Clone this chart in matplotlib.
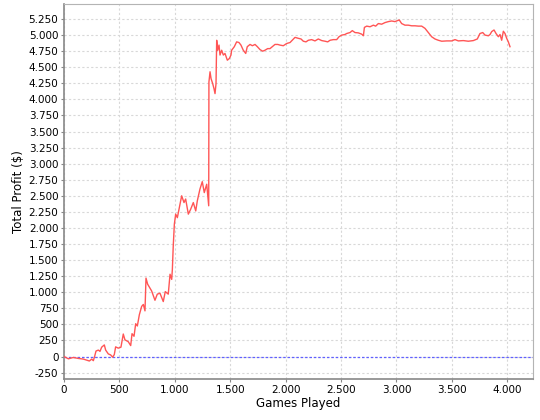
import matplotlib
matplotlib.use('Agg')
import matplotlib.pyplot as plt
from matplotlib.ticker import MultipleLocator, FuncFormatter

# Games played vs. total profit
games = [0, 40, 84, 130, 175, 229, 250, 265, 277, 289, 310, 325, 340, 364, 376,
         400, 421, 439, 454, 466, 490, 514, 535, 550, 580, 602, 614, 632, 647,
         662, 680, 701, 716, 731, 740, 755, 791, 821, 842, 866, 896, 914, 941,
         957, 972, 978, 986, 996, 1008, 1023, 1038, 1062, 1083, 1098, 1122,
         1143, 1167, 1189, 1203, 1227, 1248, 1266, 1288, 1306, 1308, 1318, 1327,
         1342, 1354, 1363, 1372, 1378, 1387, 1399, 1408, 1423, 1438, 1453, 1474,
         1492, 1507, 1513, 1537, 1558, 1579, 1597, 1618, 1640, 1654, 1679, 1700,
         1724, 1745, 1769, 1793, 1814, 1838, 1859, 1880, 1904, 1929, 1949, 1979,
         2010, 2040, 2060, 2085, 2115, 2139, 2160, 2184, 2205, 2235, 2265, 2295,
         2326, 2356, 2380, 2401, 2431, 2461, 2482, 2506, 2536, 2551, 2581, 2602,
         2626, 2656, 2687, 2702, 2711, 2732, 2762, 2792, 2813, 2837, 2867, 2897,
         2927, 2957, 2987, 3008, 3026, 3047, 3077, 3107, 3138, 3168, 3198, 3228,
         3258, 3288, 3318, 3348, 3378, 3409, 3454, 3499, 3529, 3559, 3604, 3649,
         3694, 3730, 3754, 3779, 3800, 3830, 3845, 3860, 3881, 3899, 3920, 3935,
         3950, 3965, 3980, 3995, 4010, 4025]
profit = [0, -36, -15, -30, -40, -70, -40, -65, 5, 85, 100, 80, 145, 180, 100,
          40, 25, -10, 30, 150, 130, 145, 350, 260, 230, 170, 355, 315, 510,
          475, 650, 780, 810, 710, 1220, 1125, 1020, 875, 970, 985, 855, 1010, 970,
          1280, 1200, 1355, 1720, 2060, 2215, 2160, 2290, 2500, 2395, 2450, 2215,
          2290, 2395, 2265, 2420, 2605, 2720, 2550, 2680, 2345, 4270, 4430, 4325,
          4245, 4165, 4090, 4245, 4920, 4765, 4845, 4690, 4765, 4690, 4715, 4610,
          4635, 4690, 4765, 4820, 4895, 4885, 4845, 4765, 4715, 4820, 4855, 4835,
          4855, 4820, 4775, 4750, 4765, 4790, 4790, 4820, 4855, 4855, 4845, 4835,
          4870, 4885, 4920, 4965, 4950, 4940, 4905, 4895, 4920, 4930, 4910, 4940,
          4915, 4905, 4895, 4920, 4930, 4930, 4975, 5000, 5010, 5025, 5040, 5070,
          5040, 5035, 5015, 4990, 5120, 5140, 5130, 5155, 5140, 5180, 5170, 5195,
          5210, 5220, 5210, 5225, 5235, 5180, 5155, 5155, 5145, 5145, 5140, 5140,
          5105, 5040, 4975, 4940, 4920, 4905, 4910, 4910, 4930, 4910, 4915, 4905,
          4915, 4940, 5025, 5040, 5000, 4990, 5010, 5055, 5080, 5025, 4975, 5010,
          4920, 5060, 5025, 4950, 4895, 4820]

fig = plt.figure(figsize=(5.4, 4.2), dpi=100)
ax = fig.add_axes([0.1185, 0.0976, 0.868, 0.893])

ax.grid(True, color='#d8d8d8', linestyle=(0, (2, 2)), linewidth=0.8)
ax.set_axisbelow(True)
ax.axhline(0, color='#6060ff', linestyle=(0, (2, 1.5)), linewidth=0.9, zorder=3)
ax.plot(games, profit, color='#ff5555', linewidth=1.0, zorder=4)

ax.set_xlim(0, 4230)
ax.set_ylim(-350, 5485)
ax.xaxis.set_major_locator(MultipleLocator(500))
ax.yaxis.set_major_locator(MultipleLocator(250))
fmt = FuncFormatter(lambda v, p: f"{int(round(v)):,}".replace(",", "."))
ax.xaxis.set_major_formatter(fmt)
ax.yaxis.set_major_formatter(fmt)

for side in ['top', 'right']:
    ax.spines[side].set_color('#b4b4b4')
for side in ['left', 'bottom']:
    ax.spines[side].set_color('#888888')
    ax.spines[side].set_linewidth(1.2)
ax.tick_params(axis='both', length=2, color='#888888', labelsize=7.5, pad=2)

ax.set_xlabel('Games Played', fontsize=8.5, labelpad=2)
ax.set_ylabel('Total Profit ($)', fontsize=8.5, labelpad=3)

plt.savefig('out.png', dpi=100)
